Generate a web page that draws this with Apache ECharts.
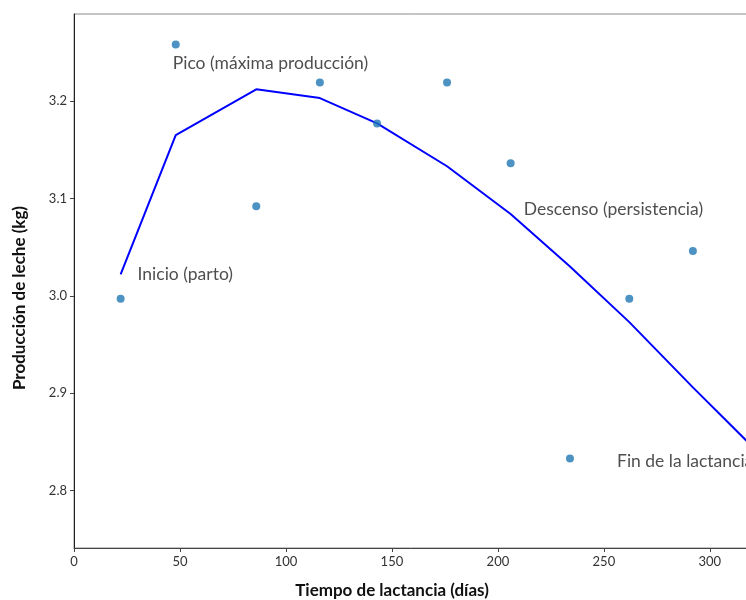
<!DOCTYPE html>
<html>
<head>
<meta charset="utf-8">
<script src="https://cdn.jsdelivr.net/npm/echarts@6/dist/echarts.min.js"></script>
<style>
html,body{margin:0;padding:0;background:#fff;}
#chart{width:746px;height:600px;}
</style>
</head>
<body>
<div id="chart"></div>
<script>
// datos observados
var dias = [22, 48, 86, 116, 143, 176, 206, 234, 262, 292];
var produccion = [2.997, 3.258, 3.092, 3.219, 3.177, 3.219, 3.136, 2.833, 2.997, 3.046];

// curva ajustada
var diasCurva = [22, 48, 86, 116, 143, 176, 206, 234, 262, 292, 322];
var curva = [3.022, 3.165, 3.212, 3.203, 3.177, 3.133, 3.084, 3.030, 2.973, 2.906, 2.841];

// etiquetas de fases
var fases = ['Inicio (parto)', 'Pico (máxima producción)', 'Descenso (persistencia)', 'Fin de la lactancia'];
var fasesX = [30, 46.6, 212.2, 256.2];
var fasesY = [3.0223, 3.2384, 3.0891, 2.830];

var xTicks = [0, 50, 100, 150, 200, 250, 300];
var yTicks = [2.8, 2.9, 3.0, 3.1, 3.2];

function pares(xs, ys) {
    var out = [];
    for (var i = 0; i < xs.length; i++) {
        out.push([xs[i], ys[i]]);
    }
    return out;
}

var etiquetas = [];
for (var i = 0; i < fases.length; i++) {
    etiquetas.push({value: [fasesX[i], fasesY[i]], name: fases[i]});
}

var chart = echarts.init(document.getElementById('chart'));
var fuente = 'Lato, "Open Sans", sans-serif';

var option = {
    animation: false,
    grid: {
        left: 74, right: -2, top: 14, bottom: 52,
        outerBoundsMode: 'none',
        show: true, borderColor: '#8a8a8a', borderWidth: 1
    },
    xAxis: {
        type: 'value',
        min: 0,
        max: 318,
        name: 'Tiempo de lactancia (días)',
        nameLocation: 'middle',
        nameGap: 34,
        nameTextStyle: {fontFamily: fuente, fontWeight: 'bold', fontSize: 17, color: '#111', padding: [0, 38, 0, 0]},
        axisLine: {show: true, onZero: false, lineStyle: {color: '#444'}},
        axisTick: {show: true, length: 4, customValues: xTicks, lineStyle: {color: '#444'}},
        axisLabel: {customValues: xTicks, fontFamily: fuente, fontSize: 13, color: '#333', margin: 7},
        splitLine: {show: false}
    },
    yAxis: {
        type: 'value',
        min: 2.7411,
        max: 3.2893,
        name: 'Producción de leche (kg)',
        nameLocation: 'middle',
        nameGap: 46,
        nameTextStyle: {fontFamily: fuente, fontWeight: 'bold', fontSize: 17, color: '#111', padding: [0, 34, 0, 0]},
        axisLine: {show: true, onZero: false, lineStyle: {color: '#222'}},
        axisTick: {show: true, length: 4, customValues: yTicks, lineStyle: {color: '#444'}},
        axisLabel: {
            customValues: yTicks,
            fontFamily: fuente, fontSize: 13, color: '#333', margin: 7,
            formatter: function (v) { return v.toFixed(1); }
        },
        splitLine: {show: false}
    },
    series: [
        {
            name: 'Datos',
            type: 'scatter',
            symbolSize: 8,
            itemStyle: {color: '#1f77b4'},
            data: pares(dias, produccion),
            z: 3
        },
        {
            name: 'Curva',
            type: 'line',
            clip: true,
            symbol: 'none',
            lineStyle: {color: '#0000ff', width: 2},
            data: pares(diasCurva, curva),
            z: 2
        },
        {
            name: 'Fases',
            type: 'scatter',
            symbolSize: 0,
            silent: true,
            label: {
                show: true,
                position: 'right',
                distance: 0,
                formatter: '{b}',
                fontFamily: fuente,
                fontSize: 17.5,
                color: '#222'
            },
            data: etiquetas,
            z: 4
        }
    ]
};
chart.setOption(option);
</script>
</body>
</html>
